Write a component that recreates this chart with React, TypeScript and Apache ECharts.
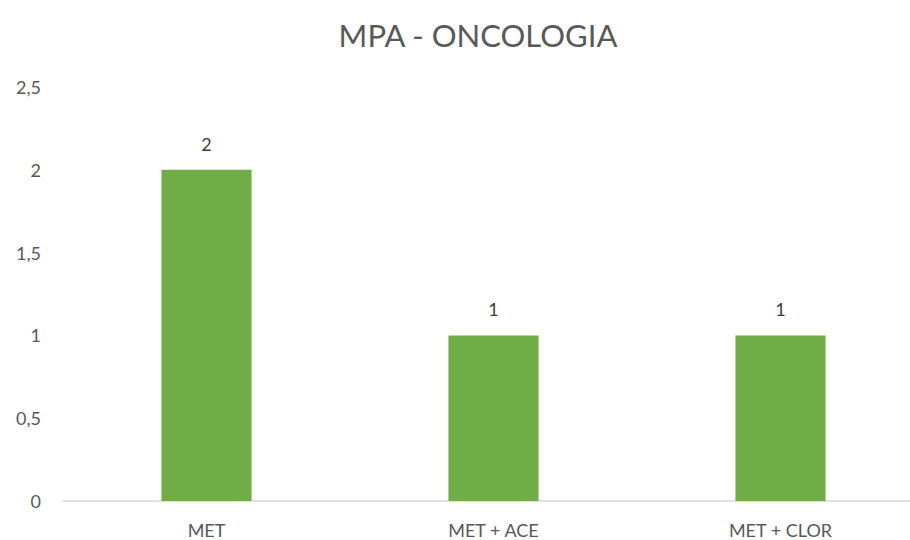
import React, { useEffect, useRef } from "react";
import * as echarts from "echarts";

const categories = ["MET", "MET + ACE", "MET + CLOR"];
const values = [2, 1, 1];
const yTicks = [0, 0.5, 1, 1.5, 2, 2.5];
const titleText = "MPA - ONCOLOGIA";

export default function App() {
  const ref = useRef<HTMLDivElement>(null);
  useEffect(() => {
    if (!ref.current) return;
    const chart = echarts.init(ref.current, undefined, { renderer: "svg" });
    const font = "Lato, 'Open Sans', sans-serif";
    chart.setOption({
      animation: false,
      backgroundColor: "#ffffff",
      title: {
        text: titleText,
        left: 473,
        top: 14,
        textAlign: "center",
        textStyle: { color: "#595959", fontSize: 31, fontWeight: "normal", fontFamily: font },
      },
      grid: { left: 63, right: 1, top: 87, bottom: 39, containLabel: false },
      xAxis: {
        type: "category",
        data: categories,
        axisLine: { show: true, lineStyle: { color: "#d9d9d9", width: 1.5 } },
        axisTick: { show: false },
        axisLabel: { color: "#595959", fontSize: 18, fontFamily: font, margin: 20 },
        splitLine: { show: false },
      },
      yAxis: {
        type: "value",
        min: yTicks[0],
        max: yTicks[yTicks.length - 1],
        interval: 0.5,
        axisLine: { show: false },
        axisTick: { show: false },
        splitLine: { show: false },
        axisLabel: {
          color: "#595959",
          fontSize: 18,
          fontFamily: font,
          margin: 22,
          formatter: (v: number) => String(v).replace(".", ","),
        },
      },
      series: [
        {
          type: "bar",
          data: values,
          barWidth: "31.4%",
          itemStyle: { color: "#70AD47" },
          label: {
            show: true,
            position: "top",
            distance: 17,
            color: "#404040",
            fontSize: 18,
            fontFamily: font,
            formatter: (p: any) => String(p.value).replace(".", ","),
          },
        },
      ],
    });
    return () => chart.dispose();
  }, []);
  return (
    <div style={{ position: "absolute", left: 0, top: 0, width: 910, height: 540, overflow: "hidden" }}>
      <div ref={ref} style={{ width: 925, height: 540 }} />
    </div>
  );
}
